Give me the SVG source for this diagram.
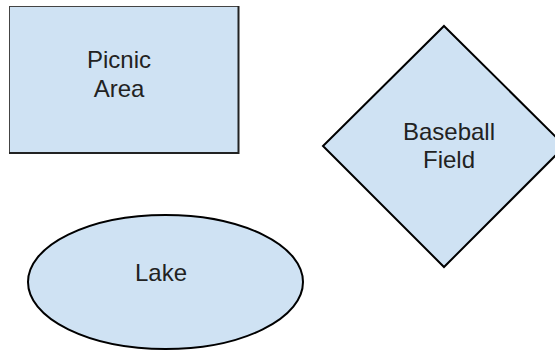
<svg xmlns="http://www.w3.org/2000/svg" width="555" height="351" viewBox="0 0 555 351">
  <style>
    .shape { fill: #cfe2f3; stroke: #000000; stroke-width: 2; }
    .label { font-family: "Liberation Sans", Arial, sans-serif; font-size: 24px; fill: #222222; text-anchor: middle; }
  </style>
  <rect width="555" height="351" fill="#ffffff"/>
  <g id="picnic-area">
    <rect x="9.5" y="6.5" width="229" height="146" fill="#cfe2f3" stroke="#444444" stroke-width="1"/>
    <path d="M238.5 6 V153 H9" fill="none" stroke="#222222" stroke-width="2"/>
    <text class="label" x="119" y="68">Picnic</text>
    <text class="label" x="119" y="97">Area</text>
  </g>
  <g id="baseball-field">
    <polygon class="shape" points="444,26 565,146 444,267 323,146"/>
    <text class="label" x="449" y="140">Baseball</text>
    <text class="label" x="449" y="168">Field</text>
  </g>
  <g id="lake">
    <ellipse class="shape" cx="165.5" cy="282" rx="137.5" ry="67"/>
    <text class="label" x="161" y="281">Lake</text>
  </g>
  <g id="connectors"/>
</svg>
